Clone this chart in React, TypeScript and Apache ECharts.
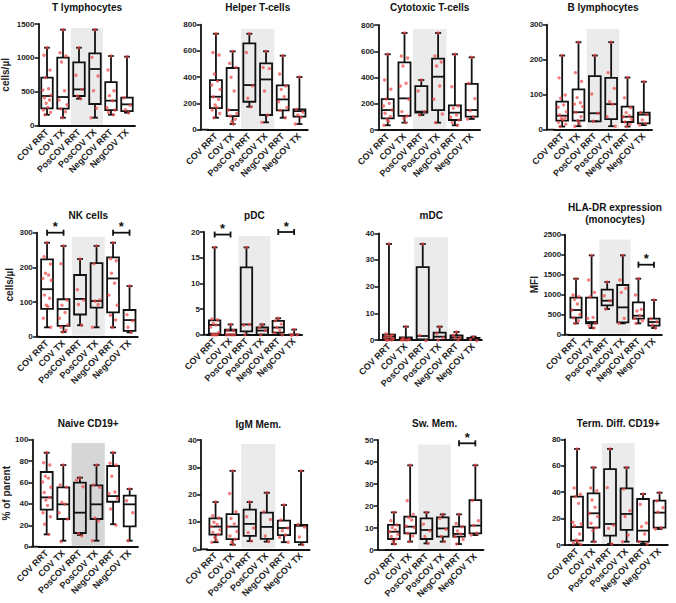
import React, { useEffect, useRef } from "react";
import * as echarts from "echarts";

const categories = ["COV RRT", "COV TX", "PosCOV RRT", "PosCOV TX", "NegCOV RRT", "NegCOV TX"];

const titles = [
  "T lymphocytes", "Helper T-cells", "Cytotoxic T-cells", "B lymphocytes",
  "NK cells", "pDC", "mDC", "HLA-DR expression\n(monocytes)",
  "Naive CD19+", "IgM Mem.", "Sw. Mem.", "Term. Diff. CD19+",
];
const yNames = ["cells/µl", "", "", "", "cells/µl", "", "", "MFI", "% of parent", "", "", ""];
const yMax = [1500, 800, 800, 300, 300, 20, 40, 2500, 100, 40, 50, 80];
const yStep = [500, 200, 200, 100, 100, 5, 10, 500, 20, 10, 10, 20];
const shadeTop = [1440, 770, 770, 288, 288, 19.2, 38.5, 2380, 97, 38.5, 48, 77];

// box stats per category: [min, q1, median, q3, max]
const tLymphBox = [[162, 256, 438, 708, 1150], [118, 251, 423, 1003, 1416], [398, 438, 536, 934, 1150], [118, 320, 836, 1067, 1416], [162, 231, 369, 644, 1028], [192, 216, 315, 413, 1018]];
const tLymphDots = [
  [1150, 1038, 820, 712, 546, 525, 450, 413, 379, 330, 270, 231, 197, 162],
  [1416, 1077, 1028, 940, 516, 379, 310, 251, 207, 118],
  [1150, 743, 536, 438, 398],
  [1416, 1008, 733, 516, 256, 118],
  [1028, 821, 516, 443, 369, 266, 231, 197, 162],
  [1018, 413, 300, 236, 192],
];

const helperBox = [[91, 165, 251, 378, 731], [43, 104, 150, 470, 597], [175, 213, 340, 658, 731], [56, 112, 383, 505, 597], [91, 147, 231, 338, 564], [43, 99, 142, 155, 401]];
const helperDots = [
  [731, 594, 569, 424, 370, 340, 307, 251, 231, 188, 170, 150, 124, 91],
  [597, 510, 480, 399, 295, 150, 124, 104, 79, 61, 43],
  [731, 594, 340, 239, 175],
  [597, 480, 470, 295, 112, 56],
  [564, 424, 338, 307, 251, 213, 170, 147, 91],
  [401, 155, 142, 112, 94, 43],
];

const cytoBox = [[36, 89, 152, 236, 577], [56, 107, 241, 516, 739], [114, 132, 140, 335, 381], [56, 152, 406, 544, 739], [36, 76, 132, 188, 577], [84, 102, 152, 351, 554]];
const cytoDots = [
  [577, 381, 310, 236, 203, 183, 152, 127, 102, 81, 64, 36],
  [739, 564, 549, 488, 356, 335, 234, 140, 107, 89, 56],
  [381, 297, 140, 114],
  [739, 564, 518, 488, 335, 234, 122, 56],
  [577, 330, 183, 165, 114, 97, 76, 56, 36],
  [554, 356, 239, 147, 102, 84],
];

const bLymphBox = [[9, 26, 40, 80, 212], [10, 26, 50, 115, 250], [24, 24, 47, 153, 212], [10, 30, 73, 148, 250], [9, 22, 37, 66, 149], [13, 18, 43, 49, 137]];
const bLymphDots = [
  [212, 148, 99, 90, 71, 64, 51, 42, 37, 32, 28, 21, 16, 9],
  [250, 163, 138, 94, 80, 73, 66, 50, 37, 26, 18, 10],
  [212, 102, 47, 24],
  [250, 163, 118, 80, 73, 37, 10],
  [149, 91, 63, 51, 42, 37, 30, 22, 16, 9],
  [137, 49, 43, 28, 18, 13],
];

const nkBox = [[27, 80, 137, 223, 271], [13.5, 31, 80, 108, 262], [33, 64, 109, 178, 224], [27, 84, 103, 212, 262], [27, 70, 168, 229, 271], [12.5, 17, 48, 77, 146]];
const nkDots = [
  [271, 233, 212, 183, 178, 168, 163, 120, 111, 91, 87, 53, 27],
  [262, 214, 108, 91, 70, 53, 34, 27, 19, 13.5],
  [224, 139, 109, 93, 33],
  [262, 214, 108, 103, 93, 27],
  [271, 229, 221, 183, 154, 120, 91, 62, 48, 27],
  [146, 67, 48, 27, 12.5],
];

const pdcBox = [[0, 0.2, 1.9, 2.8, 17], [0, 0, 0.8, 1.0, 2], [0, 0.65, 2, 13.1, 17], [0, 0, 0.8, 1.4, 2], [0, 0.4, 1.4, 2.7, 3.2], [0, 0, 0, 0, 1.0]];
const pdcDots = [
  [17, 3.2, 2.9, 2.2, 1.9, 1.5, 0.4, 0, 0, 0, 0],
  [2, 1, 0.8, 0, 0, 0, 0],
  [17, 2, 2, 0],
  [2, 1.4, 0.8, 0],
  [3.2, 2.9, 2.2, 1.4, 0.8, 0.4, 0],
  [1, 0, 0, 0],
];

const mdcBox = [[0, 0.5, 1.25, 2, 36], [0, 0, 0.5, 1, 5], [0, 0.25, 1.5, 27.3, 36], [0, 0, 1.25, 2.75, 5], [0, 0.25, 1, 1.75, 3], [0, 0, 0.5, 0.75, 1.25]];
const mdcDots = [
  [36, 2.7, 2, 1.5, 1.25, 0.9, 0.5, 0, 0, 0],
  [5, 1, 0.6, 0, 0, 0],
  [36, 2, 0],
  [5, 2.75, 1.25, 0],
  [3, 2, 1.25, 0.75, 0],
  [1.25, 0.5, 0],
];

const hlaBox = [[283, 425, 617, 925, 1400], [167, 283, 317, 925, 1983], [642, 733, 850, 1125, 1317], [283, 308, 683, 1242, 1983], [283, 400, 475, 808, 1400], [167, 225, 317, 400, 867]];
const hlaDots = [
  [1400, 992, 950, 883, 767, 617, 508, 425, 350, 283],
  [1983, 1367, 1058, 950, 433, 408, 283, 217, 167],
  [1317, 975, 850, 642],
  [1983, 1367, 1158, 1058, 408, 283],
  [1400, 992, 633, 592, 475, 408, 350, 283],
  [867, 400, 325, 242, 167],
];

const naiveBox = [[11.5, 34.6, 46.1, 69.8, 87.8], [5.6, 25.9, 39.6, 55.5, 76.3], [11, 12.8, 31.8, 59.8, 64.5], [5.6, 25.9, 39.6, 57.3, 76.3], [21, 42, 47.3, 75.4, 87.8], [5.6, 19, 39.6, 47.7, 53.9]];
const naiveDots = [
  [88, 78.5, 76.3, 66.7, 64.8, 60.4, 55.5, 51.4, 46.7, 43.6, 38.6, 31.8, 28, 20.9, 11.5],
  [76.3, 57.6, 55.5, 42, 40.5, 31.8, 25.9, 5.6],
  [64.5, 62.3, 56, 12.8, 11],
  [76.3, 57.6, 55.5, 27.4, 24.9, 5.6],
  [88, 78, 76.3, 66.7, 52, 49.8, 45, 35.8, 21],
  [53.9, 43, 31.8, 5.6],
];

const igmBox = [[2.6, 5.4, 8.3, 11.3, 17.3], [1.7, 3.7, 8.3, 12.9, 28.7], [3, 4.9, 9.3, 14.5, 17.3], [2.8, 3.8, 8.2, 13.4, 20.7], [2.6, 5.2, 7.8, 10.5, 16.2], [1.7, 2.6, 8.6, 8.9, 28.7]];
const igmDots = [
  [17.3, 12.6, 11.7, 9.9, 9.1, 8.3, 7.1, 6.2, 5.4, 4.4, 3.4, 2.6],
  [28.7, 20.7, 14, 11.3, 9.3, 8.3, 6.5, 4.9, 3.7, 2.6, 1.7],
  [17.3, 12.2, 8.3, 6.1, 3],
  [20.7, 14, 11.3, 4.9, 2.8],
  [16.2, 10.7, 8.3, 6.8, 5.2, 4.4, 2.6],
  [28.7, 9.3, 8.5, 4.5, 1.7],
];

const swBox = [[2.7, 5, 8.3, 11.4, 17.1], [3.8, 7.6, 10.6, 15.2, 38.5], [3, 5, 9.1, 14.4, 17.1], [3.8, 6.1, 9.8, 14.8, 16.2], [2.7, 6.1, 7.3, 10.6, 16.2], [6.8, 7.6, 11.1, 22.7, 38.5]];
const swDots = [
  [17.1, 13.6, 11.4, 10.2, 9.1, 8.3, 7.1, 6.1, 5, 3.8, 2.7],
  [38.5, 22.7, 16.2, 14.8, 13.6, 10.9, 10.2, 7.6, 6.4, 3.8],
  [17.1, 12.1, 9.1, 6.1, 3],
  [16.2, 14.8, 9.8, 6.1, 3.8],
  [16.2, 12.4, 10.6, 8.6, 7.3, 6.1, 4.8, 2.7],
  [38.5, 22.7, 13.3, 11.1, 7.6, 6.8],
];

const termBox = [[0.5, 3.3, 13.6, 36.6, 72.7], [2.5, 13.1, 24, 39.1, 58.6], [0.8, 7.1, 15.9, 57.5, 72.7], [2.5, 11.4, 23.5, 42.9, 58.6], [0.8, 2.5, 10.9, 34.8, 38.6], [12.1, 13.1, 24.5, 33.6, 39.6]];
const termDots = [
  [72.7, 43.7, 39, 36.8, 31.5, 17.2, 15.9, 14.6, 8.3, 3.8, 2.5, 1.3, 0.5],
  [58.6, 43.7, 41.6, 34, 28.5, 24, 21.5, 16.4, 13.1, 10.9, 2.5],
  [72.7, 44.2, 15.9, 12.6, 0.8],
  [58.6, 42.9, 26.5, 21.5, 7.6, 2.5],
  [38.6, 31.5, 17.2, 13.9, 8.3, 2.5, 0.8],
  [39.6, 34, 29, 25, 13.1, 12.1],
];

// significance brackets: [fromCategory, toCategory, yValue]
const nkSig = [[0, 1, 300], [4, 5, 300]];
const pdcSig = [[0, 1, 19.5], [4, 5, 20]];
const hlaSig = [[4, 5, 1750]];
const swSig = [[4, 5, 48.5]];

const boxes = [tLymphBox, helperBox, cytoBox, bLymphBox, nkBox, pdcBox, mdcBox, hlaBox, naiveBox, igmBox, swBox, termBox];
const dots = [tLymphDots, helperDots, cytoDots, bLymphDots, nkDots, pdcDots, mdcDots, hlaDots, naiveDots, igmDots, swDots, termDots];
const sigs = [[], [], [], [], nkSig, pdcSig, [], hlaSig, [], [], swSig, []];

// layout (pixels)
const gridLeft = [39, 207.6, 379.3, 554, 38.8, 206.7, 380.5, 568.2, 38.4, 207, 385.7, 568.8];
const gridWidth = [96, 100.2, 100.8, 98, 99, 95.4, 101.4, 93.6, 99.6, 102.6, 97.8, 99];
const gridTop = [24, 24.7, 25, 24.7, 232.7, 232, 233.3, 234.7, 439.7, 440, 440, 439.3];
const gridBase = [125.7, 129.7, 130, 129.7, 336.7, 334.7, 340, 334.7, 546.7, 549.3, 550, 545];
const axisGap = [0.5, 7, 1, 7, 2, 2.7, 2, 3, 6, 6, 8, 4];
const nameGaps = [28, 0, 0, 0, 22, 0, 0, 24, 17, 0, 0, 0];
const titleY = [7, 7, 7, 7, 215, 215, 215, 213, 423, 424, 423, 423];
const shadeColor = ["#ebebeb", "#ebebeb", "#ebebeb", "#ebebeb", "#ebebeb", "#ebebeb", "#ebebeb", "#ebebeb", "#d6d6d6", "#ebebeb", "#ebebeb", "#ebebeb"];

const FONT = "'Liberation Sans', Arial, sans-serif";
const INK = "#111";
const jitter = [0, -3, 3, -1.5, 1.5, -4, 4, -2.5, 2.5, -0.8, 0.8, -3.6, 3.6, -2, 2, -1];

function buildOption() {
  const grid: any[] = [];
  const xAxis: any[] = [];
  const yAxis: any[] = [];
  const series: any[] = [];
  const graphic: any[] = [];

  for (let i = 0; i < 12; i++) {
    grid.push({
      left: gridLeft[i],
      top: gridTop[i],
      width: gridWidth[i],
      height: gridBase[i] - gridTop[i],
      containLabel: false,
      outerBoundsMode: "none",
    });
    xAxis.push({
      gridIndex: i,
      type: "category",
      data: categories,
      axisLine: { lineStyle: { color: INK, width: 1.8 } },
      axisTick: { alignWithLabel: true, length: 4, lineStyle: { color: INK, width: 1.5 } },
      axisLabel: { rotate: 45, interval: 0, fontSize: 9, fontWeight: "bold", color: "#222", margin: 5, fontFamily: FONT },
      splitLine: { show: false },
    });
    yAxis.push({
      gridIndex: i,
      type: "value",
      min: 0,
      max: yMax[i],
      interval: yStep[i],
      offset: axisGap[i],
      axisLine: { show: true, lineStyle: { color: INK, width: 1.8 } },
      axisTick: { show: true, length: 4, lineStyle: { color: INK, width: 1.5 } },
      axisLabel: {
        fontSize: 8, fontWeight: "bold", color: "#222", margin: 4, fontFamily: FONT,
        formatter: (v: number) => String(v),
      },
      splitLine: { show: false },
      name: yNames[i],
      nameLocation: "middle",
      nameGap: nameGaps[i],
      nameTextStyle: { fontSize: 10, fontWeight: "bold", color: "#222", fontFamily: FONT },
    });

    const gap = axisGap[i];
    const fill = shadeColor[i];
    series.push({
      type: "custom",
      xAxisIndex: i,
      yAxisIndex: i,
      silent: true,
      data: [[2, 3, shadeTop[i]]],
      renderItem: (params: any, api: any) => {
        const bw = api.size([1, 0])[0];
        const a = api.coord([api.value(0), 0]);
        const b = api.coord([api.value(1), api.value(2)]);
        const left0 = api.coord([0, 0])[0] - bw / 2;
        return {
          type: "group",
          children: [
            { type: "rect", shape: { x: a[0] - bw / 2, y: b[1], width: b[0] - a[0] + bw, height: a[1] - b[1] - 1 }, style: { fill } },
            { type: "line", shape: { x1: left0 - gap - 0.9, y1: a[1], x2: left0 + 1, y2: a[1] }, style: { stroke: INK, lineWidth: 1.8 } },
          ],
        };
      },
    });

    series.push({
      type: "custom",
      xAxisIndex: i,
      yAxisIndex: i,
      silent: true,
      data: boxes[i].map((b, c) => [c, ...b]),
      renderItem: (params: any, api: any) => {
        const c = api.value(0);
        const bw = api.size([1, 0])[0];
        const x = api.coord([c, 0])[0];
        const y = (v: number) => api.coord([c, v])[1];
        const mn = y(api.value(1));
        const q1 = y(api.value(2));
        const md = y(api.value(3));
        const q3 = y(api.value(4));
        const mx = y(api.value(5));
        const hw = bw * 0.36;
        const cw = bw * 0.18;
        const ls = { stroke: INK, lineWidth: 1.8 };
        return {
          type: "group",
          children: [
            { type: "line", shape: { x1: x, y1: mx, x2: x, y2: q3 }, style: ls },
            { type: "line", shape: { x1: x, y1: q1, x2: x, y2: mn }, style: ls },
            { type: "line", shape: { x1: x - cw, y1: mx, x2: x + cw, y2: mx }, style: ls },
            { type: "line", shape: { x1: x - cw, y1: mn, x2: x + cw, y2: mn }, style: ls },
            { type: "rect", shape: { x: x - hw, y: q3, width: 2 * hw, height: q1 - q3 }, style: { stroke: INK, lineWidth: 1.8, fill: "rgba(0,0,0,0)" } },
            { type: "line", shape: { x1: x - hw, y1: md, x2: x + hw, y2: md }, style: ls },
          ],
        };
      },
    });

    const pts: number[][] = [];
    dots[i].forEach((arr, c) => arr.forEach((v, k) => pts.push([c, v, k])));
    series.push({
      type: "custom",
      xAxisIndex: i,
      yAxisIndex: i,
      silent: true,
      data: pts,
      renderItem: (params: any, api: any) => {
        const bw = api.size([1, 0])[0];
        const p = api.coord([api.value(0), api.value(1)]);
        const off = (jitter[api.value(2) % jitter.length] * bw) / 16;
        return { type: "circle", shape: { cx: p[0] + off, cy: p[1], r: 1.7 }, style: { fill: "rgba(236,70,70,0.7)" } };
      },
    });

    if (sigs[i].length) {
      series.push({
        type: "custom",
        xAxisIndex: i,
        yAxisIndex: i,
        silent: true,
        data: sigs[i],
        renderItem: (params: any, api: any) => {
          const a = api.coord([api.value(0), api.value(2)]);
          const b = api.coord([api.value(1), api.value(2)]);
          const ls = { stroke: INK, lineWidth: 1.8 };
          return {
            type: "group",
            children: [
              { type: "line", shape: { x1: a[0], y1: a[1], x2: b[0], y2: b[1] }, style: ls },
              { type: "line", shape: { x1: a[0], y1: a[1] - 3, x2: a[0], y2: a[1] + 3 }, style: ls },
              { type: "line", shape: { x1: b[0], y1: b[1] - 3, x2: b[0], y2: b[1] + 3 }, style: ls },
              {
                type: "text",
                x: (a[0] + b[0]) / 2,
                y: a[1] - 6,
                style: { text: "*", fontSize: 13, fontWeight: "bold", fill: INK, align: "center", verticalAlign: "middle", fontFamily: FONT },
              },
            ],
          };
        },
      });
    }

    graphic.push({
      type: "text",
      x: gridLeft[i] + gridWidth[i] / 2,
      y: titleY[i],
      style: {
        text: titles[i],
        fontSize: 10,
        fontWeight: "bold",
        fill: "#111",
        align: "center",
        verticalAlign: "middle",
        lineHeight: 12,
        fontFamily: FONT,
      },
    });
  }

  return {
    animation: false,
    backgroundColor: "#ffffff",
    textStyle: { fontFamily: FONT },
    grid,
    xAxis,
    yAxis,
    series,
    graphic,
  };
}

export default function App() {
  const ref = useRef<HTMLDivElement>(null);
  useEffect(() => {
    if (!ref.current) return;
    const chart = echarts.init(ref.current, undefined, { renderer: "svg" });
    chart.setOption(buildOption() as any);
    return () => chart.dispose();
  }, []);
  return (
    <div
      ref={ref}
      style={{ position: "fixed", left: 0, top: 0, width: 676, height: 603, background: "#fff" }}
    />
  );
}
